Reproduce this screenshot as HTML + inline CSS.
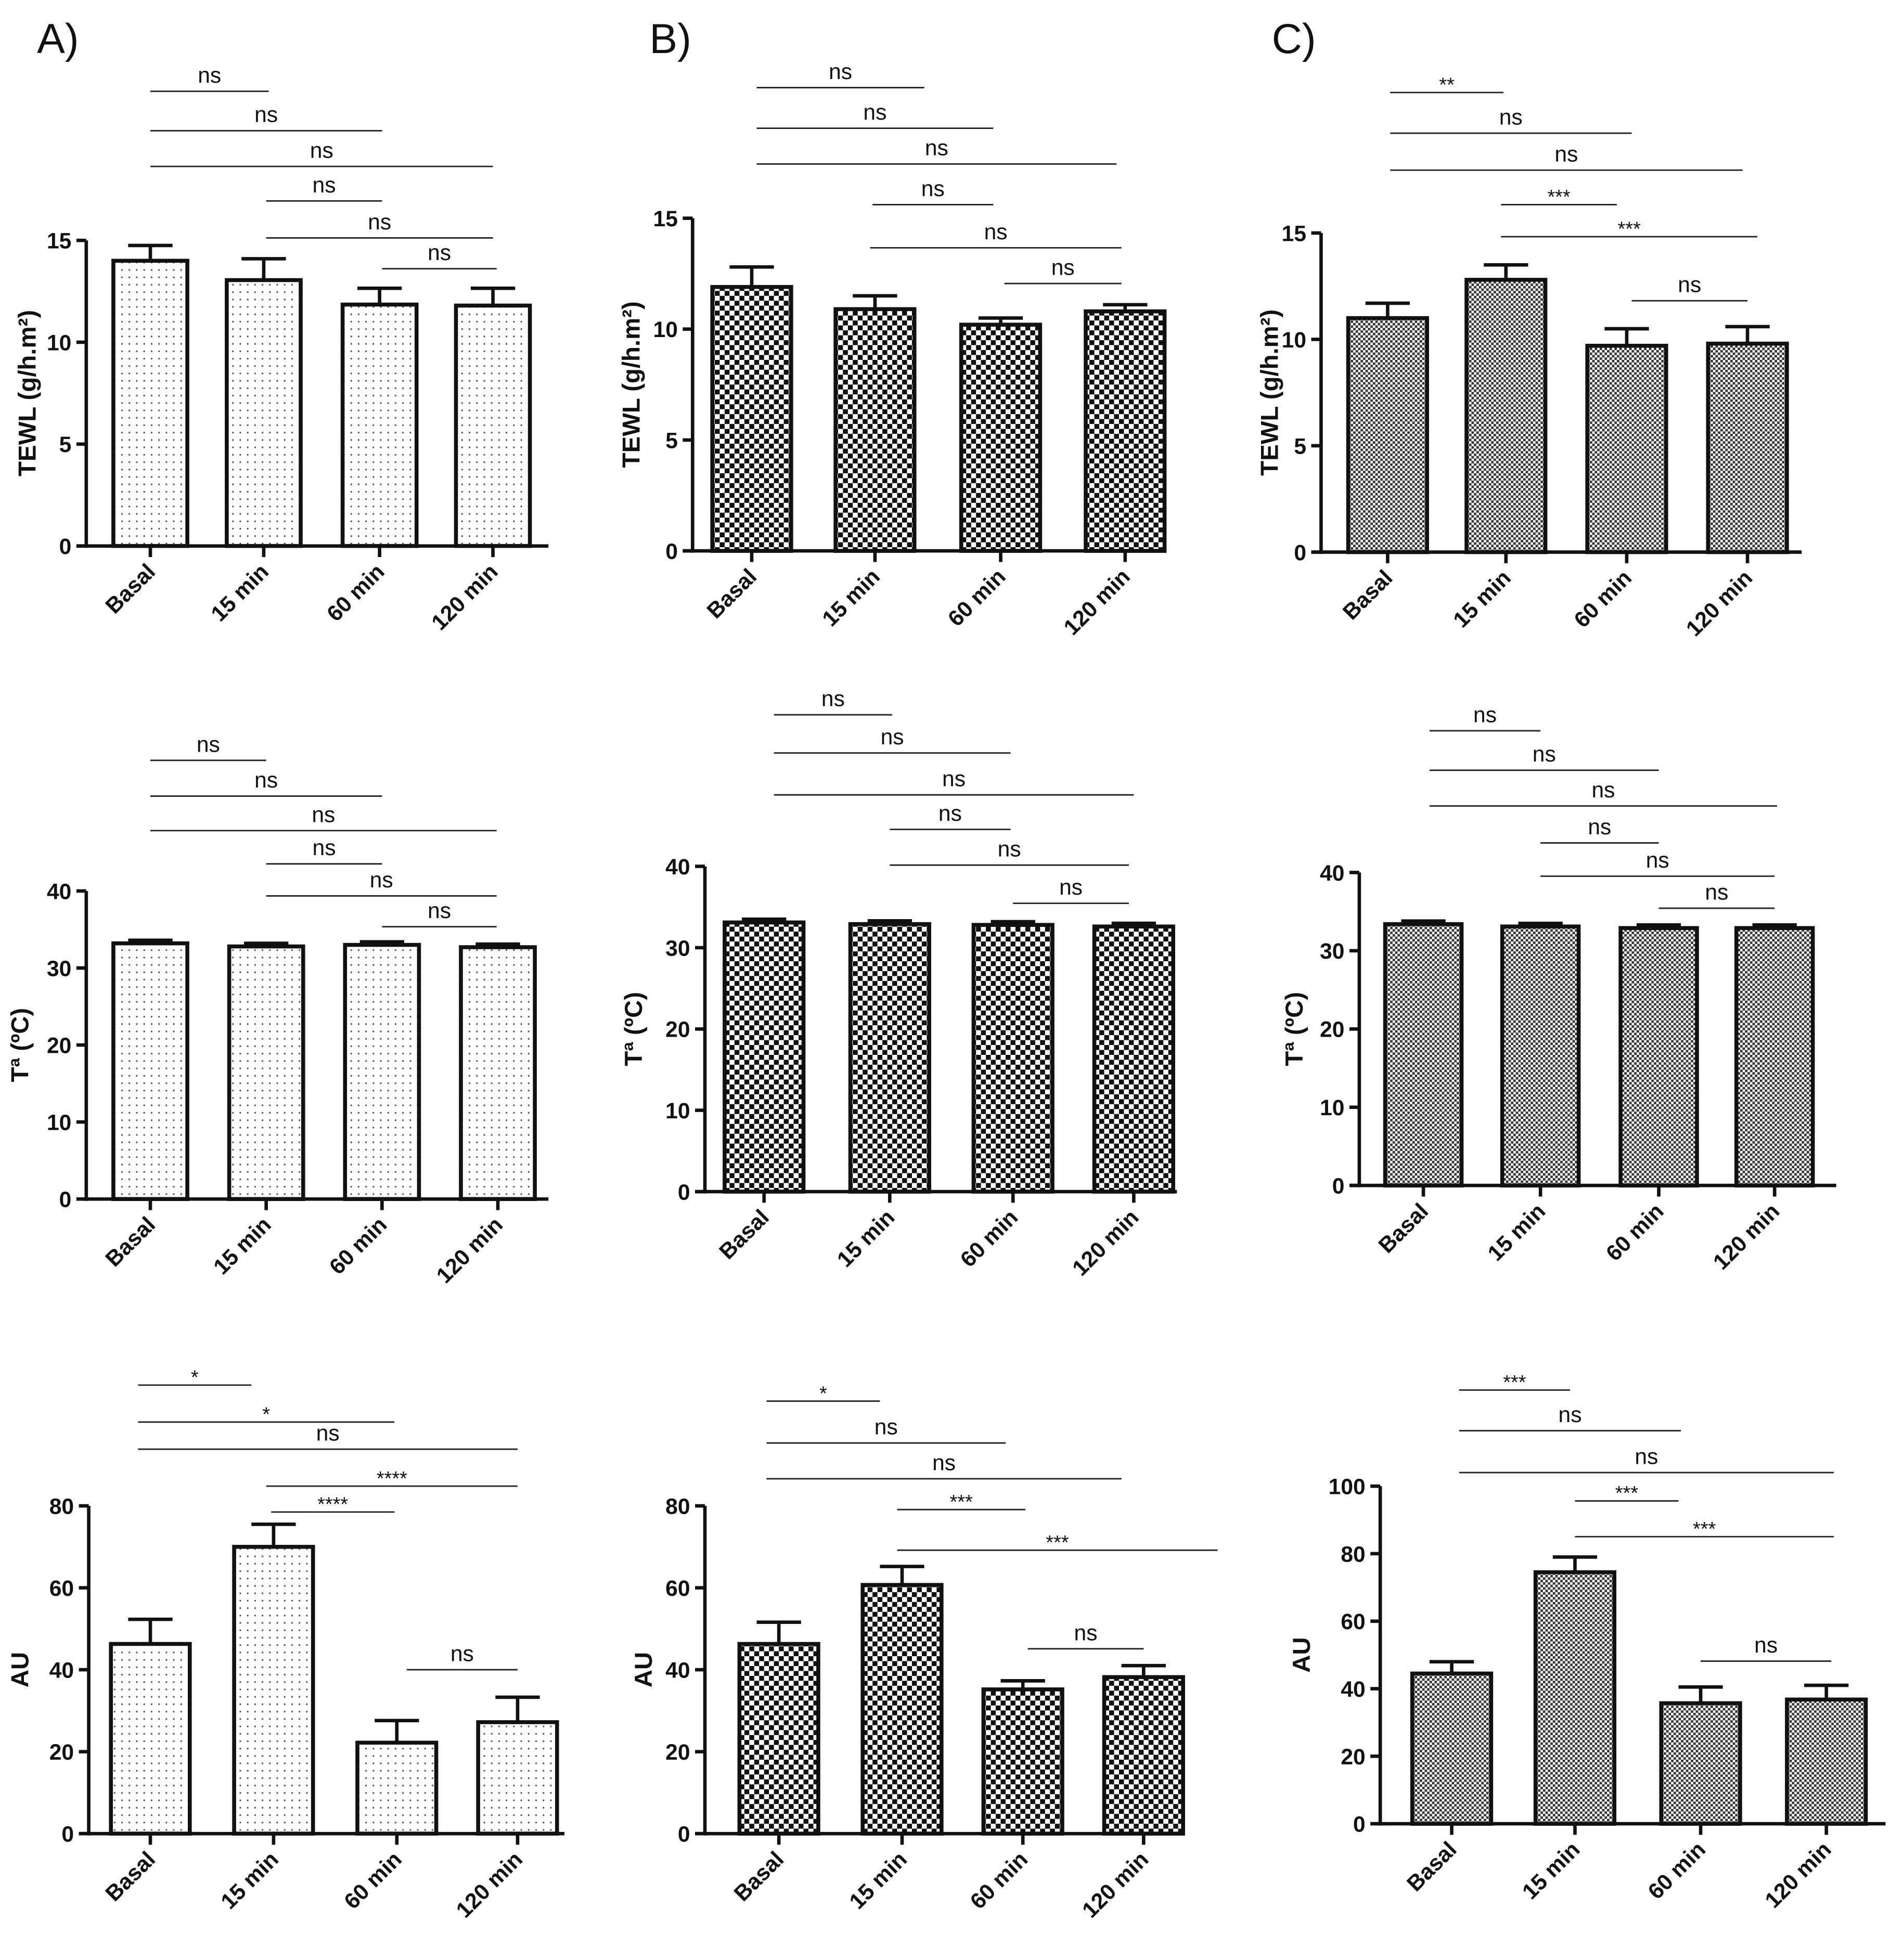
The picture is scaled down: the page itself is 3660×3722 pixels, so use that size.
<!DOCTYPE html>
<html><head><meta charset="utf-8"><style>
html,body{margin:0;padding:0;background:#fff}
svg{display:block}
text{font-family:"Liberation Sans",Arial,sans-serif;fill:#111}
</style></head><body>
<svg id="fig" width="3660" height="3722" viewBox="0 0 1545 1571" xmlns="http://www.w3.org/2000/svg">
<defs>
<pattern id="pdots" width="6" height="6" patternUnits="userSpaceOnUse"><rect width="6" height="6" fill="#fff"/><circle cx="3" cy="3" r="0.7" fill="#555"/></pattern>
<pattern id="pcheck" width="8" height="8" patternUnits="userSpaceOnUse"><rect width="8" height="8" fill="#fff"/><rect width="4" height="4" fill="#111"/><rect x="4" y="4" width="4" height="4" fill="#111"/></pattern>
<pattern id="pfine" width="4" height="4" patternUnits="userSpaceOnUse"><rect width="4" height="4" fill="#fff"/><rect width="2" height="2" fill="#333"/><rect x="2" y="2" width="2" height="2" fill="#333"/></pattern>
</defs>
<text x="30" y="43" font-size="34">A)</text>
<text x="527" y="43" font-size="34">B)</text>
<text x="1032" y="43" font-size="34">C)</text>
</svg>
<script>
const categories = ["Basal","15 min","60 min","120 min"];
// TEWL
const tewlA = [14.0, 13.05, 11.85, 11.8];
const tewlAErr = [0.75, 1.05, 0.8, 0.85];
const tewlB = [11.9, 10.9, 10.2, 10.8];
const tewlBErr = [0.9, 0.6, 0.3, 0.3];
const tewlC = [11.0, 12.8, 9.7, 9.8];
const tewlCErr = [0.7, 0.7, 0.8, 0.8];
// Temperature
const tempA = [33.2, 32.8, 33.0, 32.7];
const tempAErr = [0.4, 0.4, 0.4, 0.4];
const tempB = [33.1, 32.9, 32.8, 32.6];
const tempBErr = [0.4, 0.4, 0.4, 0.4];
const tempC = [33.4, 33.1, 32.9, 32.9];
const tempCErr = [0.4, 0.4, 0.4, 0.4];
// AU
const auA = [46.3, 70.0, 22.2, 27.2];
const auAErr = [6.0, 5.5, 5.4, 6.1];
const auB = [46.3, 60.7, 35.2, 38.2];
const auBErr = [5.3, 4.5, 2.1, 2.8];
const auC = [44.5, 74.5, 35.7, 36.8];
const auCErr = [3.5, 4.5, 4.8, 4.2];
// significance labels
const sigTewlA = ["ns","ns","ns","ns","ns","ns"];
const sigTewlB = ["ns","ns","ns","ns","ns","ns"];
const sigTewlC = ["**","ns","ns","***","***","ns"];
const sigTempA = ["ns","ns","ns","ns","ns","ns"];
const sigTempB = ["ns","ns","ns","ns","ns","ns"];
const sigTempC = ["ns","ns","ns","ns","ns","ns"];
const sigAuA = ["*","*","ns","****","****","ns"];
const sigAuB = ["*","ns","ns","***","***","ns"];
const sigAuC = ["***","ns","ns","***","***","ns"];
const ticksTewl = [0,5,10,15];
const ticksTemp = [0,10,20,30,40];
const ticksAu80 = [0,20,40,60,80];
const ticksAu100 = [0,20,40,60,80,100];

const NS="http://www.w3.org/2000/svg";
const svg=document.getElementById('fig');
function mk(tag,attrs,parent){const e=document.createElementNS(NS,tag);for(const k in attrs)e.setAttribute(k,attrs[k]);(parent||svg).appendChild(e);return e;}

const panels=[
 {id:'a1',vals:tewlA,err:tewlAErr,ticks:ticksTewl,sig:sigTewlA,fill:'pdots',title:'TEWL (g/h.m²)',ax:70,y0:443,yt:195,vt:15,xe:445,cx:[122,214,308,400],bw:60,tx:22,
  lines:[[122,218,74],[122,310,106],[122,400,135],[216,310,163],[216,400,193],[310,403,218]]},
 {id:'b1',vals:tewlB,err:tewlBErr,ticks:ticksTewl,sig:sigTewlB,fill:'pcheck',title:'TEWL (g/h.m²)',ax:562,y0:447,yt:177,vt:15,xe:940,cx:[610,710,812,913],bw:64,tx:512,
  lines:[[614,750,71],[614,806,104],[614,906,133],[708,806,166],[706,910,201],[815,910,230]]},
 {id:'c1',vals:tewlC,err:tewlCErr,ticks:ticksTewl,sig:sigTewlC,fill:'pfine',title:'TEWL (g/h.m²)',ax:1072,y0:448,yt:189,vt:15,xe:1462,cx:[1126,1222,1320,1418],bw:64,tx:1030,
  lines:[[1128,1220,75],[1128,1324,108],[1128,1414,138],[1218,1312,166],[1218,1426,192],[1324,1418,244]]},
 {id:'a2',vals:tempA,err:tempAErr,ticks:ticksTemp,sig:sigTempA,fill:'pdots',title:'Tª (ºC)',ax:70,y0:973,yt:723,vt:40,xe:445,cx:[122,216,310,404],bw:60,tx:16,
  lines:[[122,216,617],[122,310,646],[122,403,674],[216,310,701],[216,403,727],[310,403,752]]},
 {id:'b2',vals:tempB,err:tempBErr,ticks:ticksTemp,sig:sigTempB,fill:'pcheck',title:'Tª (ºC)',ax:572,y0:967,yt:703,vt:40,xe:955,cx:[620,722,822,920],bw:64,tx:514,
  lines:[[628,724,580],[628,820,611],[628,920,645],[722,820,673],[722,916,702],[822,916,733]]},
 {id:'c2',vals:tempC,err:tempCErr,ticks:ticksTemp,sig:sigTempC,fill:'pfine',title:'Tª (ºC)',ax:1103,y0:962,yt:708,vt:40,xe:1490,cx:[1155,1250,1346,1440],bw:62,tx:1050,
  lines:[[1160,1250,593],[1160,1346,625],[1160,1442,654],[1250,1346,684],[1250,1440,711],[1346,1440,737]]},
 {id:'a3',vals:auA,err:auAErr,ticks:ticksAu80,sig:sigAuA,fill:'pdots',title:'AU',ax:72,y0:1488,yt:1222,vt:80,xe:458,cx:[122,222,322,420],bw:64,tx:16,
  lines:[[112,204,1124],[112,320,1154],[112,420,1176],[216,420,1206],[220,320,1227],[330,420,1355]]},
 {id:'b3',vals:auB,err:auBErr,ticks:ticksAu80,sig:sigAuB,fill:'pcheck',title:'AU',ax:572,y0:1488,yt:1222,vt:80,xe:960,cx:[632,732,830,928],bw:64,tx:522,
  lines:[[622,714,1137],[622,816,1171],[622,910,1200],[728,832,1225],[728,988,1258],[834,928,1338]]},
 {id:'c3',vals:auC,err:auCErr,ticks:ticksAu100,sig:sigAuC,fill:'pfine',title:'AU',ax:1120,y0:1480,yt:1206,vt:100,xe:1530,cx:[1178,1278,1380,1482],bw:64,tx:1056,
  lines:[[1184,1274,1128],[1184,1364,1161],[1184,1488,1195],[1278,1362,1218],[1278,1488,1247],[1380,1486,1348]]}
];

panels.forEach(p=>{
 const g=mk('g',{});
 
 
 const y=v=>p.y0-(v/p.vt)*(p.y0-p.yt);
 p.vals.forEach((v,i)=>{
  const cx=p.cx[i], top=y(v), et=y(v+p.err[i]);
  const eb=mk('line',{x1:cx,x2:cx,y1:top,y2:et,stroke:'#111','stroke-width':2.8},g);
  
  
  const cap=mk('line',{x1:cx-18,x2:cx+18,y1:et,y2:et,stroke:'#111','stroke-width':2.8},g);
  
  
  const r=mk('rect',{x:cx-p.bw/2,y:top,width:p.bw,height:p.y0-top,fill:'url(#'+p.fill+')',stroke:'#111','stroke-width':3.2},g);
  
  
  mk('line',{x1:cx,x2:cx,y1:p.y0,y2:p.y0+9,stroke:'#111','stroke-width':2.8},g);
  const t=mk('text',{x:0,y:0,'font-size':18,'font-weight':'bold','text-anchor':'end',transform:'translate('+(cx+5)+','+(p.y0+22)+') rotate(-45)'},g);
  t.textContent=categories[i];
  
  
 });
 const ya=mk('line',{x1:p.ax,x2:p.ax,y1:p.y0+1.5,y2:p.yt,stroke:'#111','stroke-width':2.8},g);
 
 
 const xa=mk('line',{x1:p.ax-8,x2:p.xe,y1:p.y0,y2:p.y0,stroke:'#111','stroke-width':2.8},g);
 
 
 p.ticks.forEach(tv=>{
  const ty=y(tv);
  mk('line',{x1:p.ax-8,x2:p.ax,y1:ty,y2:ty,stroke:'#111','stroke-width':2.8},g);
  const tl=mk('text',{x:p.ax-12,y:ty+6.5,'font-size':18,'font-weight':'bold','text-anchor':'end'},g);
  tl.textContent=tv;
  
  
 });
 const ttl=mk('text',{x:0,y:0,'font-size':20,'font-weight':'bold','text-anchor':'middle',transform:'translate('+(p.tx+7)+','+((p.y0+p.yt)/2)+') rotate(-90)'},g);
 ttl.textContent=p.title;
 
 
 p.lines.forEach((L,i)=>{
  const sl=mk('line',{x1:L[0],x2:L[1],y1:L[2],y2:L[2],stroke:'#222','stroke-width':1.2},g);
  
  
  const lab=p.sig[i], star=lab.indexOf('*')>=0;
  const st=mk('text',{x:(L[0]+L[1])/2,y:star?L[2]-1:L[2]-7,'font-size':star?16:18,'text-anchor':'middle'},g);
  st.textContent=lab;
  
  
 });
});
</script>
</body></html>
